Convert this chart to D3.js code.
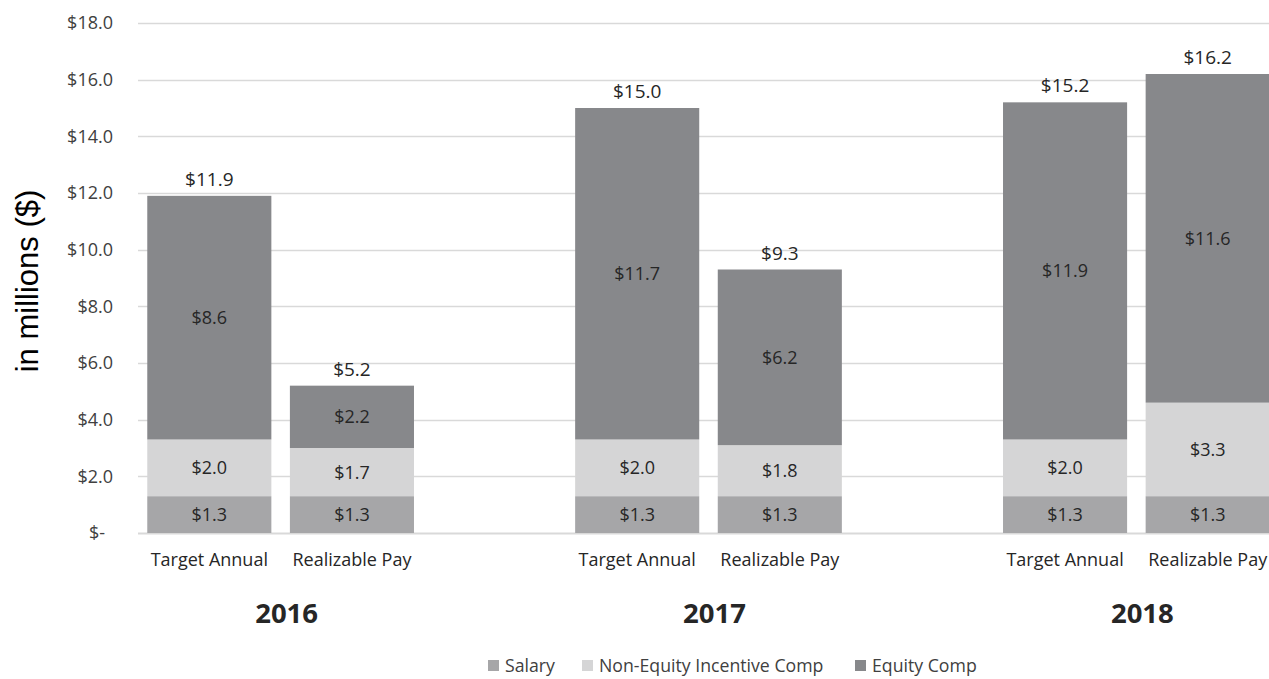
<!DOCTYPE html>
<html>
<head>
<meta charset="utf-8">
<title>Target vs Realizable Pay</title>
<style>
  body { margin: 0; background: #fff; }
  svg text { font-family: "Open Sans", sans-serif; }
</style>
</head>
<body>
<div id="chart"></div>
<script src="https://d3js.org/d3.v7.min.js"></script>
<script>
// categories, blank slots keep the gap between years
var slots = ["2016|T", "2016|R", "gap1", "2017|T", "2017|R", "gap2", "2018|T", "2018|R"];
var barKeys = ["2016|T", "2016|R", "2017|T", "2017|R", "2018|T", "2018|R"];
var barLabels = ["Target Annual", "Realizable Pay", "Target Annual", "Realizable Pay", "Target Annual", "Realizable Pay"];
var years = ["2016", "2017", "2018"];

// series values, in millions
var salary = [1.3, 1.3, 1.3, 1.3, 1.3, 1.3];
var nonEquity = [2.0, 1.7, 2.0, 1.8, 2.0, 3.3];
var equity = [8.6, 2.2, 11.7, 6.2, 11.9, 11.6];
var totals = [11.9, 5.2, 15.0, 9.3, 15.2, 16.2];

var seriesNames = ["Salary", "Non-Equity Incentive Comp", "Equity Comp"];
var colors = ["#a6a6a8", "#d5d5d6", "#87888b"];

var yTicks = [0, 2, 4, 6, 8, 10, 12, 14, 16, 18];

var width = 1269, height = 679;

var svg = d3.select("#chart")
    .append("svg")
    .attr("width", width)
    .attr("height", height);

var x = d3.scaleBand()
    .domain(slots)
    .range([138, 1279])
    .paddingInner(0.13)
    .paddingOuter(0.065);

var y = d3.scaleLinear()
    .domain([0, 18])
    .range([533, 23]);

// gridlines
svg.append("g")
    .selectAll("line")
    .data(yTicks)
    .enter()
    .append("line")
    .attr("x1", 138)
    .attr("x2", width)
    .attr("y1", function (d) { return Math.round(y(d)) + 0.5; })
    .attr("y2", function (d) { return Math.round(y(d)) + 0.5; })
    .attr("stroke", "#d9d9d9")
    .attr("stroke-width", function (d) { return d === 0 ? 2 : 1.3; });

// y tick labels
svg.append("g")
    .selectAll("text")
    .data(yTicks)
    .enter()
    .append("text")
    .attr("x", function (d) { return d === 0 ? 105 : 113; })
    .attr("y", function (d) { return y(d); })
    .attr("dy", "0.36em")
    .attr("text-anchor", "end")
    .attr("font-size", 18)
    .attr("fill", "#404040")
    .text(function (d) { return d === 0 ? "$-" : "$" + d3.format(".1f")(d); });

// axis title
svg.append("text")
    .attr("transform", "translate(38,281) rotate(-90)")
    .attr("text-anchor", "middle")
    .style("font-family", "'Liberation Sans', Arial, sans-serif")
    .attr("font-size", 31)
    .attr("fill", "#000")
    .text("in millions ($)");

// stack the series
var rows = barKeys.map(function (k, i) {
    return { key: k, salary: salary[i], nonEquity: nonEquity[i], equity: equity[i] };
});
var stack = d3.stack().keys(["salary", "nonEquity", "equity"]);
var layers = stack(rows);

var layerG = svg.selectAll("g.layer")
    .data(layers)
    .enter()
    .append("g")
    .attr("class", "layer")
    .attr("fill", function (d, i) { return colors[i]; });

layerG.selectAll("rect")
    .data(function (d) { return d; })
    .enter()
    .append("rect")
    .attr("x", function (d) { return x(d.data.key); })
    .attr("width", x.bandwidth())
    .attr("y", function (d) { return y(d[1]); })
    .attr("height", function (d) { return y(d[0]) - y(d[1]); });

// segment labels
layerG.selectAll("text")
    .data(function (d) { return d; })
    .enter()
    .append("text")
    .attr("x", function (d) { return x(d.data.key) + x.bandwidth() / 2; })
    .attr("y", function (d) { return (y(d[0]) + y(d[1])) / 2; })
    .attr("dy", "0.36em")
    .attr("text-anchor", "middle")
    .attr("font-size", 18)
    .attr("fill", "#262626")
    .text(function (d) { return "$" + d3.format(".1f")(d[1] - d[0]); });

// totals above bars
svg.append("g")
    .selectAll("text")
    .data(barKeys)
    .enter()
    .append("text")
    .attr("x", function (d) { return x(d) + x.bandwidth() / 2; })
    .attr("y", function (d, i) { return y(totals[i]) - 10; })
    .attr("text-anchor", "middle")
    .attr("font-size", 19)
    .attr("fill", "#262626")
    .text(function (d, i) { return "$" + d3.format(".1f")(totals[i]); });

// category labels
svg.append("g")
    .selectAll("text")
    .data(barKeys)
    .enter()
    .append("text")
    .attr("x", function (d) { return x(d) + x.bandwidth() / 2; })
    .attr("y", 566)
    .attr("text-anchor", "middle")
    .attr("font-size", 18)
    .attr("fill", "#262626")
    .text(function (d, i) { return barLabels[i]; });

// year labels
svg.append("g")
    .selectAll("text")
    .data(years)
    .enter()
    .append("text")
    .attr("x", function (d) {
        return (x(d + "|T") + x(d + "|R") + x.bandwidth()) / 2 + 6;
    })
    .attr("y", 623)
    .attr("text-anchor", "middle")
    .attr("font-size", 27.5)
    .attr("font-weight", "bold")
    .attr("fill", "#262626")
    .text(function (d) { return d; });

// legend
var legendX = [488, 582, 855];
var legend = svg.append("g")
    .selectAll("g")
    .data(seriesNames)
    .enter()
    .append("g")
    .attr("transform", function (d, i) { return "translate(" + legendX[i] + ",660)"; });

legend.append("rect")
    .attr("width", 11)
    .attr("height", 11)
    .attr("fill", function (d, i) { return colors[i]; });

legend.append("text")
    .attr("x", 17)
    .attr("y", 6)
    .attr("dy", "0.36em")
    .attr("font-size", 17.7)
    .attr("fill", "#404040")
    .text(function (d) { return d; });
</script>
</body>
</html>
